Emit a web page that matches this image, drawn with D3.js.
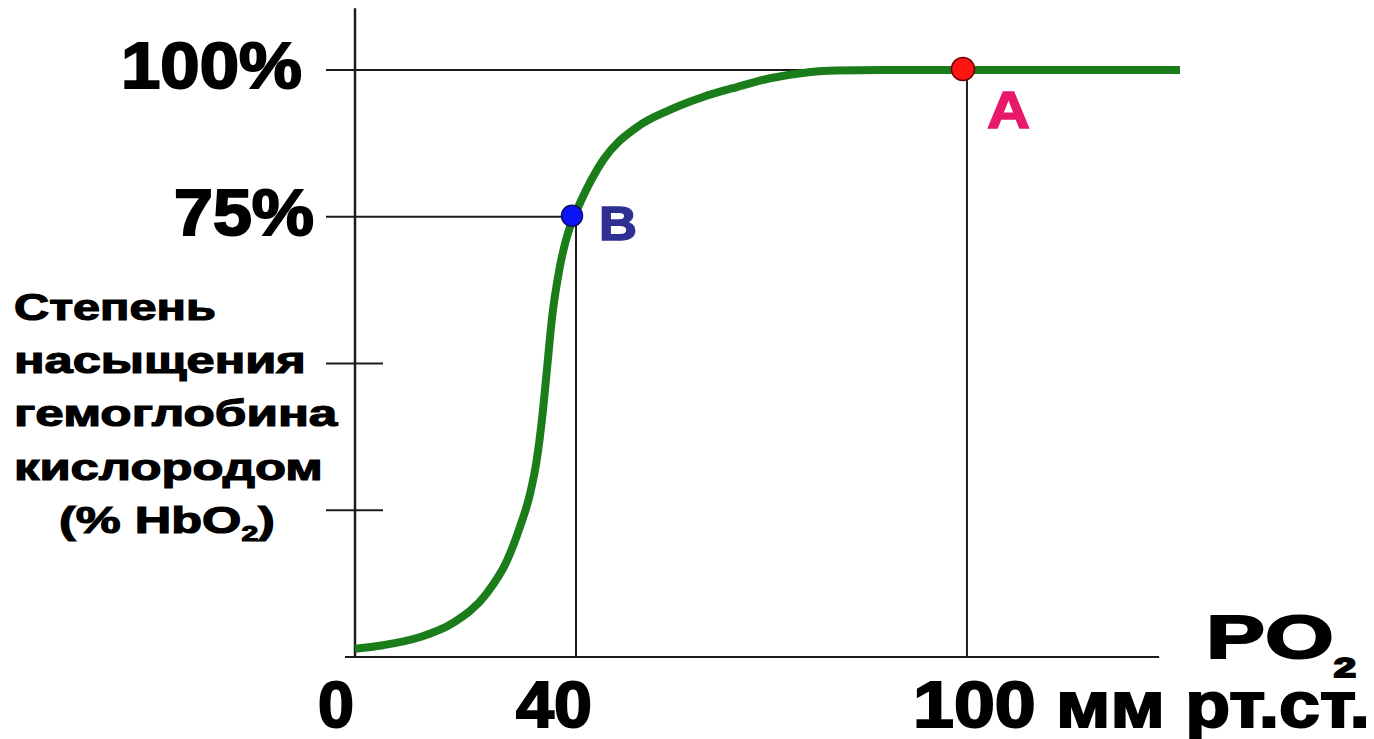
<!DOCTYPE html>
<html>
<head>
<meta charset="utf-8">
<script src="https://cdn.jsdelivr.net/npm/d3@7"></script>
<style>
  html, body { margin: 0; padding: 0; background: #fff; }
  svg { display: block; }
  text { font-family: "Liberation Sans", Arial, sans-serif; font-weight: bold; }
</style>
</head>
<body>
<svg id="chart" width="1374" height="739"></svg>
<script>
// Oxygen-haemoglobin dissociation curve (schematic)
const PO2_VALUES = [0, 5.1, 11.9, 17.9, 24.1, 27.8, 30.1, 32.0, 33.2, 34.2, 35.1, 36.0, 37.4, 38.9, 40,
  40.9, 44.5, 49.7, 54.7, 59.8, 65.0, 70.1, 75.1, 80.4, 86.9, 100, 133];
const SAT_VALUES = [1.4, 2.0, 3.4, 5.8, 10.9, 16.5, 22.1, 27.9, 33.6, 40.9, 49.4, 57.9, 66.4, 72.2, 75,
  77.3, 84.7, 90.3, 93.2, 95.4, 97.1, 98.6, 99.5, 99.9, 100, 100, 100];

const X_TICKS = [0, 40, 100];
const X_TICK_LABELS = ['0', '40', '100 мм рт.ст.'];
const Y_TICKS = [25, 50, 75, 100];
const Y_TICK_LABELS = ['', '', '75%', '100%'];

const POINT_NAMES = ['B', 'A'];
const POINT_PO2 = [40, 100];
const POINT_SAT = [75, 100];

const Y_TITLE_LINES = ['Степень', 'насыщения', 'гемоглобина', 'кислородом'];

const svg = d3.select('#chart');

// The picture is schematic: the 0-40 stretch is drawn a little wider than the rest.
const x = d3.scaleLinear().domain([0, 40, 133]).range([355, 574, 1180]);
const y = d3.scaleLinear().domain([0, 100]).range([657, 70]);

// Squeeze/stretch a text horizontally so that its box spans [x0, x0 + w].
function fitWidth(sel, x0, w) {
  sel.each(function() {
    const b = this.getBBox();
    const s = w / b.width;
    d3.select(this).attr('transform', `translate(${x0},0) scale(${s},1) translate(${-b.x},0)`);
  });
}

const ink = '#1c1c1c';

// Axes
svg.append('line')
  .attr('x1', x(0)).attr('x2', x(0))
  .attr('y1', y(110.5)).attr('y2', y(0))
  .attr('stroke', ink).attr('stroke-width', 2.5);

svg.append('line')
  .attr('x1', x(0) - 10).attr('x2', x(129.8))
  .attr('y1', y(0)).attr('y2', y(0))
  .attr('stroke', ink).attr('stroke-width', 2);

// Short ticks at 25% and 50%, guide lines at 75% and 100%
const guideEnd = { 75: x(40), 100: x(100) };
svg.append('g').selectAll('line')
  .data(Y_TICKS)
  .join('line')
    .attr('x1', x(0) - 29)
    .attr('x2', (d) => guideEnd[d] !== undefined ? guideEnd[d] : x(0) + 28)
    .attr('y1', (d) => y(d)).attr('y2', (d) => y(d))
    .attr('stroke', ink).attr('stroke-width', 2);

// Drop lines from the marked points
svg.append('g').selectAll('line')
  .data(POINT_NAMES.map((n, i) => ({ n, px: POINT_PO2[i], sat: POINT_SAT[i] })))
  .join('line')
    .attr('x1', (d) => x(d.px) + 2).attr('x2', (d) => x(d.px) + 2)
    .attr('y1', (d) => y(d.sat)).attr('y2', y(0))
    .attr('stroke', ink).attr('stroke-width', 2);

// The curve
const curveData = PO2_VALUES.map((p, i) => ({ p, s: SAT_VALUES[i] }));
const line = d3.line()
  .x((d) => x(d.p))
  .y((d) => y(d.s))
  .curve(d3.curveMonotoneX);

svg.append('path')
  .datum(curveData)
  .attr('d', line)
  .attr('fill', 'none')
  .attr('stroke', '#1a7d1a')
  .attr('stroke-width', 8)
  .attr('stroke-linecap', 'butt');

// Marked points
const pointFill = { A: '#ff1414', B: '#0a14f5' };
const pointStroke = { A: '#6a0000', B: '#101060' };
svg.append('g').selectAll('circle')
  .data(POINT_NAMES.map((n, i) => ({ n, px: POINT_PO2[i], sat: POINT_SAT[i] })))
  .join('circle')
    .attr('cx', (d) => x(d.px) - 2)
    .attr('cy', (d) => y(d.sat) - 1)
    .attr('r', (d) => d.n === 'A' ? 11.5 : 10.5)
    .attr('fill', (d) => pointFill[d.n])
    .attr('stroke', (d) => pointStroke[d.n])
    .attr('stroke-width', 1.5);

// Point letters
const letterColor = { A: '#e8196b', B: '#2e3192' };
const letterPos = { A: { x0: 987, w: 43, base: 128, size: 52 }, B: { x0: 599, w: 38, base: 240, size: 48 } };
POINT_NAMES.forEach((n) => {
  const p = letterPos[n];
  svg.append('text')
    .attr('y', p.base)
    .attr('font-size', p.size)
    .attr('fill', letterColor[n])
    .attr('stroke', letterColor[n]).attr('stroke-width', 1.5)
    .text(n)
    .call(fitWidth, p.x0, p.w);
});

// Y tick labels (75%, 100%)
const yLabelBox = { 75: { x0: 174, w: 140 }, 100: { x0: 121, w: 181 } };
Y_TICKS.forEach((t, i) => {
  if (!Y_TICK_LABELS[i]) return;
  svg.append('text')
    .attr('y', y(t) + 18)
    .attr('font-size', 64)
    .attr('fill', '#000')
    .attr('stroke', '#000').attr('stroke-width', 2)
    .text(Y_TICK_LABELS[i])
    .call(fitWidth, yLabelBox[t].x0, yLabelBox[t].w);
});

// X tick labels
const xLabelBox = [{ x0: 318, w: 36 }, { x0: 516, w: 76 }, { x0: 913, w: 457 }];
X_TICKS.forEach((t, i) => {
  svg.append('text')
    .attr('y', 727)
    .attr('font-size', 65)
    .attr('fill', '#000')
    .attr('stroke', '#000').attr('stroke-width', 2)
    .text(X_TICK_LABELS[i])
    .call(fitWidth, xLabelBox[i].x0, xLabelBox[i].w);
});

// X axis title: PO2
const po2 = svg.append('text')
  .attr('y', 658)
  .attr('font-size', 62)
  .attr('fill', '#000')
  .attr('stroke', '#000').attr('stroke-width', 2);
po2.append('tspan').text('PO');
po2.append('tspan').attr('font-size', 28).attr('dy', 19).text('2');
po2.call(fitWidth, 1206, 150);

// Y axis title
const titleWidths = [202, 292, 324, 309];
Y_TITLE_LINES.forEach((t, i) => {
  svg.append('text')
    .attr('y', 320 + i * 53.2)
    .attr('font-size', 37)
    .attr('fill', '#000')
    .attr('stroke', '#000').attr('stroke-width', 1.2)
    .text(t)
    .call(fitWidth, 14, titleWidths[i]);
});

const hb = svg.append('text')
  .attr('y', 533)
  .attr('font-size', 37)
  .attr('fill', '#000')
  .attr('stroke', '#000').attr('stroke-width', 1.2);
hb.append('tspan').text('(% HbO');
hb.append('tspan').attr('font-size', 22).attr('dy', 8).text('2');
hb.append('tspan').attr('dy', -8).text(')');
hb.call(fitWidth, 59, 216);
</script>
</body>
</html>
